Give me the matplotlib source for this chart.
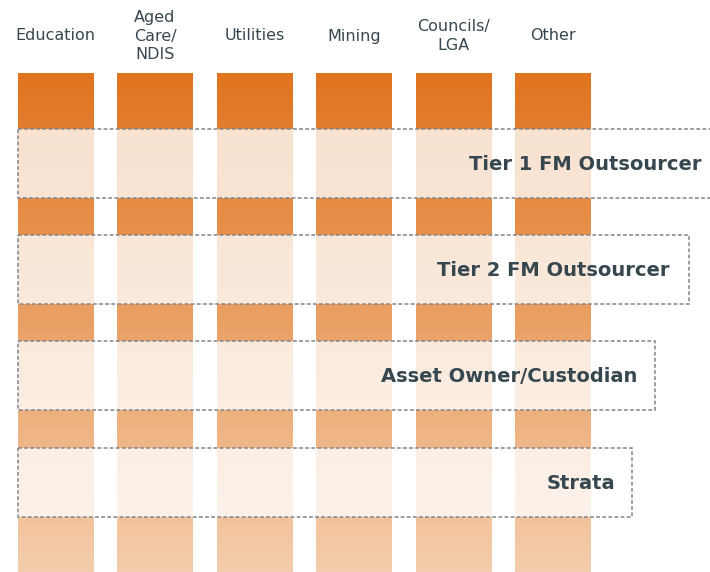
import numpy as np
import matplotlib.pyplot as plt
from matplotlib.colors import LinearSegmentedColormap
from matplotlib.patches import Rectangle

# sectors across the top
sectors = ['Education', 'Aged\nCare/\nNDIS', 'Utilities', 'Mining', 'Councils/\nLGA', 'Other']
# client tiers, each band reaches a bit less far to the right
tiers = ['Tier 1 FM Outsourcer', 'Tier 2 FM Outsourcer', 'Asset Owner/Custodian', 'Strata']
tier_reach = [7.5, 6.52, 6.18, 5.95]    # right edge of band, in column units
label_right = [6.65, 6.33, 6.0, 5.78]   # right edge of label

text_col = '#37474F'
dash_col = '#80858B'

fig = plt.figure(figsize=(7.1, 5.72), dpi=100)
ax = fig.add_axes([0, 0, 1, 1])
ax.set_xlim(-0.37, 6.73)
ax.set_ylim(5.72, 0)
ax.axis('off')

cmap = LinearSegmentedColormap.from_list('orng', ['#E0741F', '#F4CDAC'])
grad = np.linspace(0, 1, 256).reshape(-1, 1)

bar_w = 0.755
bar_top = 0.73
bar_bot = 5.72
for i, s in enumerate(sectors):
    x0 = i * 0.995 - bar_w / 2 + 0.185
    ax.imshow(grad, cmap=cmap, aspect='auto', interpolation='bicubic',
              extent=[x0, x0 + bar_w, bar_bot, bar_top], zorder=1)
    ax.text(x0 + bar_w / 2, 0.36, s, ha='center', va='center', fontsize=11.5,
            color=text_col, linespacing=1.3)

band_top = [1.29, 2.35, 3.41, 4.48]
band_h = 0.69
for t, top, reach, lr in zip(tiers, band_top, tier_reach, label_right):
    ax.add_patch(Rectangle((-0.19, top), reach + 0.19, band_h,
                           facecolor='white', alpha=0.78, edgecolor='none', zorder=2))
    ax.add_patch(Rectangle((-0.19, top), reach + 0.19, band_h,
                           facecolor='none', edgecolor=dash_col, lw=1.1,
                           linestyle=(0, (2.5, 1.5)), zorder=3))
    ax.text(lr, top + band_h / 2 + 0.01, t, ha='right', va='center',
            fontsize=14, fontweight='bold', color=text_col, zorder=4)

fig.savefig('out.png', dpi=100)
